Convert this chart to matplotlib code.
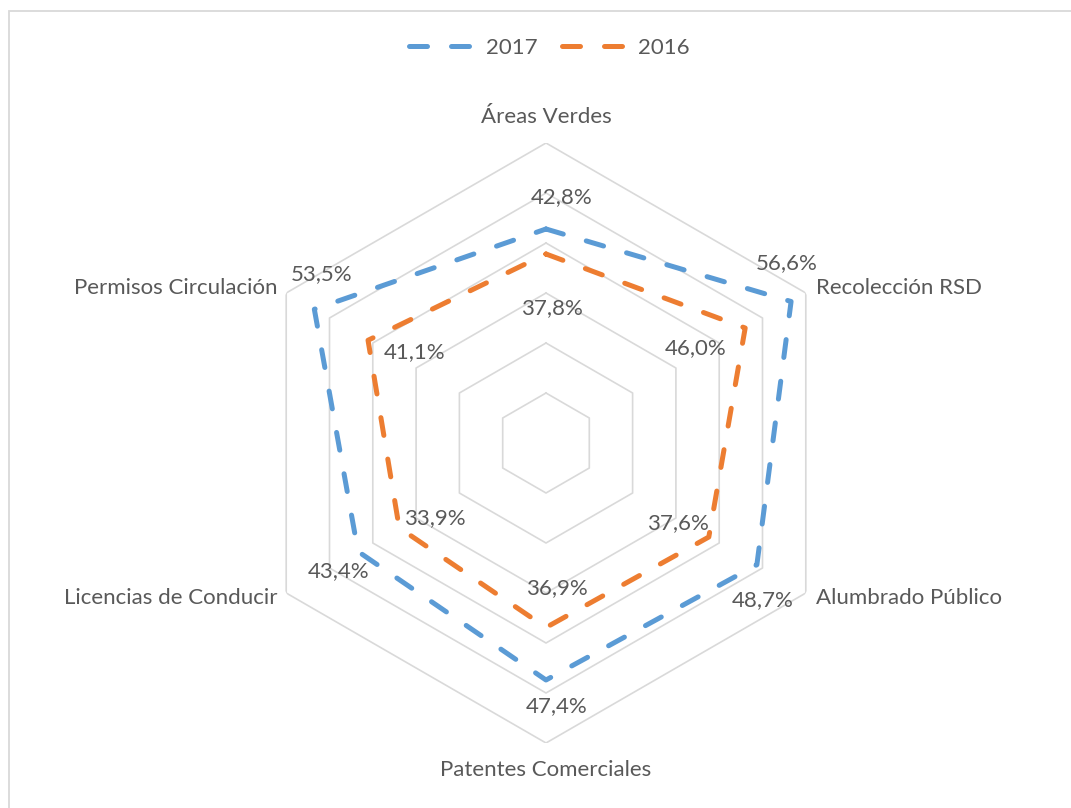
import numpy as np
import matplotlib.pyplot as plt
from matplotlib.lines import Line2D
from matplotlib.patches import Rectangle

plt.rcParams['font.family'] = ['Lato', 'DejaVu Sans']

categorias = ['Áreas Verdes', 'Recolección RSD', 'Alumbrado Público',
              'Patentes Comerciales', 'Licencias de Conducir', 'Permisos Circulación']
valores_2017 = [42.8, 56.6, 48.7, 47.4, 43.4, 53.5]
valores_2016 = [37.8, 46.0, 37.6, 36.9, 33.9, 41.1]
anillos = [10, 20, 30, 40, 50, 60]

azul = '#5B9BD5'
naranja = '#ED7D31'
gris_texto = '#595959'
gris_grid = '#D9D9D9'
fs = 16

# desplazamientos (pixeles) de las etiquetas respecto al punto
off_2017 = [(16, 32), (-4, 38), (6, -35), (11, -26), (-19, -20), (7, 35)]
off_2016 = [(6, -54), (-50, -20), (-31, 14), (11, 39), (36, 10), (47, -12)]
off_cat = [(0, 26, 'center'), (10, 5, 'left'), (10, -5, 'left'),
           (0, -27, 'center'), (-9, -5, 'right'), (-9, 5, 'right')]

n = len(categorias)
ang = np.arange(n) * 2 * np.pi / n
ang_c = np.append(ang, ang[0])

fig = plt.figure(figsize=(10.71, 8.08), dpi=100)
ax = fig.add_axes([246 / 1071, 65 / 808, 600 / 1071, 600 / 808], projection='polar')
ax.set_theta_zero_location('N')
ax.set_theta_direction(-1)
ax.set_ylim(0, 60)
ax.grid(False)
ax.spines['polar'].set_visible(False)
ax.set_xticks([])
ax.set_yticks([])

for r in anillos:
    ax.plot(ang_c, [r] * (n + 1), color=gris_grid, lw=1.2, zorder=1)

lw = 3.6
estilo = (0, (3.6, 4.8))
ax.plot(ang_c, valores_2016 + valores_2016[:1], color=naranja, lw=lw,
        linestyle=estilo, dash_capstyle='round', zorder=3)
ax.plot(ang_c, valores_2017 + valores_2017[:1], color=azul, lw=lw,
        linestyle=estilo, dash_capstyle='round', zorder=3)

for i in range(n):
    ax.annotate(f'{valores_2017[i]:.1f}%'.replace('.', ','), (ang[i], valores_2017[i]),
                xytext=off_2017[i], textcoords='offset pixels', ha='center', va='center',
                fontsize=fs, color=gris_texto)
    ax.annotate(f'{valores_2016[i]:.1f}%'.replace('.', ','), (ang[i], valores_2016[i]),
                xytext=off_2016[i], textcoords='offset pixels', ha='center', va='center',
                fontsize=fs, color=gris_texto)
    dx, dy, ha = off_cat[i]
    ax.annotate(categorias[i], (ang[i], anillos[-1]), xytext=(dx, dy),
                textcoords='offset pixels', ha=ha, va='center',
                fontsize=fs, color=gris_texto, annotation_clip=False)

handles = [Line2D([], [], color=azul, lw=lw, linestyle=estilo, dash_capstyle='round'),
           Line2D([], [], color=naranja, lw=lw, linestyle=estilo, dash_capstyle='round')]
fig.legend(handles, ['2017', '2016'], loc='center', bbox_to_anchor=(0.513, 1 - 48 / 808),
           ncol=2, frameon=False, fontsize=fs, handlelength=2.95, handletextpad=0.5,
           columnspacing=1.1, labelcolor=gris_texto)

fig.add_artist(Rectangle((8.5 / 1071, -0.1), 1.2, 1 - 11.5 / 808 + 0.1,
                         transform=fig.transFigure, fill=False, ec=gris_grid, lw=1.3))

fig.savefig('out.png', dpi=100, facecolor='white')
